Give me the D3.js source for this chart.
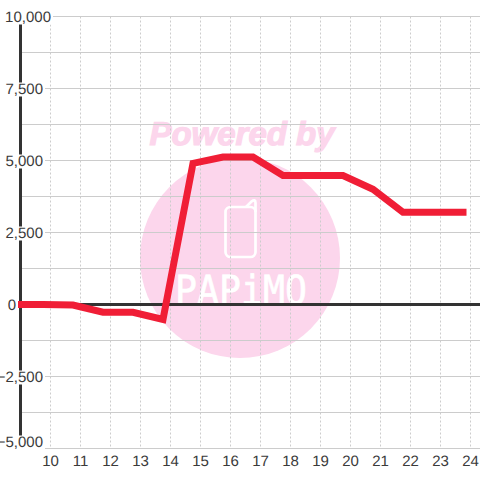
<!DOCTYPE html>
<html><head><meta charset="utf-8">
<script src="https://cdn.jsdelivr.net/npm/d3@7/dist/d3.min.js"></script>
<style>html,body{margin:0;padding:0;background:#fff}svg{display:block}text{text-rendering:geometricPrecision}</style>
</head><body><svg id="c" width="480" height="480"></svg>
<script>
const hours=[8.98,9.75,10.75,11.75,12.75,13.75,14.75,15.75,16.75,17.75,18.75,19.75,20.75,21.75,22.75,23.75];
const balance=[0,0,-20,-270,-270,-520,4900,5120,5120,4480,4480,4480,4000,3200,3200,3200];
const xTicks=[10,11,12,13,14,15,16,17,18,19,20,21,22,23,24];
const yMajor=[10000,7500,5000,2500,0,-2500,-5000];
const yGrid=[10000,8750,7500,6250,5000,3750,2500,1250,0,-1250,-2500,-3750,-5000];
const brand=["Powered by","PAPiMO"];

const svg=d3.select("#c");
const x=d3.scaleLinear().domain([10,24]).range([50.5,470.5]);
const y=d3.scaleLinear().domain([-5000,10000]).range([448.5,16.5]);
const font="'Liberation Sans',Arial,sans-serif";
const pink="#fcd6ec";

// watermark
svg.append("circle").attr("cx",240).attr("cy",258).attr("r",100).attr("fill",pink);
svg.append("text").text(brand[0]).attr("x",242).attr("y",145).attr("text-anchor","middle")
  .attr("font-family",font).attr("font-weight","bold").attr("font-style","italic")
  .attr("font-size",33).attr("fill",pink).attr("stroke",pink).attr("stroke-width",1.2);
svg.append("rect").attr("x",225.5).attr("y",207).attr("width",30).attr("height",50).attr("rx",5)
  .attr("fill","none").attr("stroke","#fff").attr("stroke-width",2.7);
svg.append("path").attr("d","M246 207 L251.5 201.5 Q255.5 198.5 255.5 203 L255.5 212")
  .attr("fill","none").attr("stroke","#fff").attr("stroke-width",2.7);
svg.append("text").text(brand[1]).attr("x",241).attr("y",304).attr("text-anchor","middle")
  .attr("font-family","'DejaVu Sans Mono',monospace").attr("font-size",40)
  .attr("textLength",132).attr("lengthAdjust","spacingAndGlyphs")
  .attr("fill","#fff").attr("stroke","#fff").attr("stroke-width",0.6);

// grid
svg.append("g").selectAll("line").data(xTicks).join("line")
  .attr("x1",d=>x(d)).attr("x2",d=>x(d)).attr("y1",y(10000)).attr("y2",y(-5000))
  .attr("stroke","#ccc").attr("stroke-dasharray","2 2");
svg.append("g").selectAll("line").data(yGrid).join("line")
  .attr("x1",20).attr("x2",480).attr("y1",d=>y(d)).attr("y2",d=>y(d))
  .attr("stroke","#ccc");

// axes
svg.append("line").attr("x1",20.5).attr("x2",20.5).attr("y1",y(10000)).attr("y2",y(-5000))
  .attr("stroke","#333").attr("stroke-width",3);
svg.append("line").attr("x1",20).attr("x2",480).attr("y1",y(0)).attr("y2",y(0))
  .attr("stroke","#333").attr("stroke-width",3);

// series
const line=d3.line().x((d,i)=>x(hours[i])).y(d=>y(d));
svg.append("path").attr("d",line(balance)).attr("fill","none")
  .attr("stroke","#f01e36").attr("stroke-width",7).attr("stroke-linejoin","miter").attr("stroke-linecap","square");

// y labels with background
const fmt=d3.format(",");
const fs=15;
const labelY=d=>d===-5000?y(d)-7:y(d);
const labelRight=d=>d===10000?51:d===0?16:43;
const yl=svg.append("g").selectAll("g").data(yMajor).join("g");
yl.append("rect").attr("fill","#fff");
yl.append("text").text(d=>fmt(d)).attr("x",labelRight).attr("y",d=>labelY(d)+5.5)
  .attr("text-anchor","end").attr("font-family",font).attr("font-size",fs).attr("fill","#3a3a3a");
yl.each(function(d){
  const g=d3.select(this), w=g.select("text").node().getComputedTextLength();
  g.select("rect").attr("x",labelRight(d)-w-1).attr("width",w+3).attr("y",labelY(d)-6).attr("height",14);
});

// x labels
svg.append("g").selectAll("text").data(xTicks).join("text").text(d=>d)
  .attr("x",d=>x(d)).attr("y",466).attr("text-anchor","middle")
  .attr("font-family",font).attr("font-size",fs).attr("fill","#3a3a3a");
</script></body></html>
